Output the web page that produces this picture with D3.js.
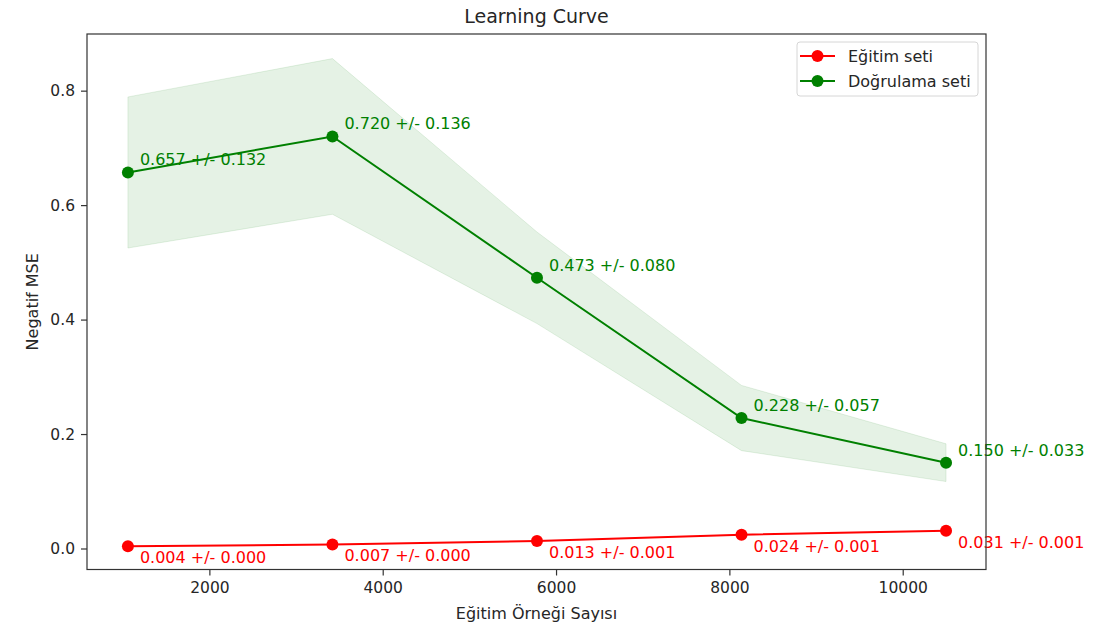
<!DOCTYPE html>
<html lang="tr">
<meta charset="UTF-8">
<title>Learning Curve</title>
<script src="https://d3js.org/d3.v7.min.js"></script>
<style>
  body { margin: 0; background: #fff; }
  svg text { font-family: "DejaVu Sans", sans-serif; fill: #262626; }
</style>
<body>
<svg id="chart" width="1097" height="631"></svg>
<script>
// data
var trainSizes = [1060, 3420, 5780, 8140, 10500];
var trainMean = [0.004, 0.007, 0.013, 0.024, 0.031];
var trainStd  = [0.000, 0.000, 0.001, 0.001, 0.001];
var valMean   = [0.657, 0.720, 0.473, 0.228, 0.150];
var valStd    = [0.132, 0.136, 0.080, 0.057, 0.033];
var xTicks = [2000, 4000, 6000, 8000, 10000];
var yTicks = [0.0, 0.2, 0.4, 0.6, 0.8];

// plot box (named so it does not clash with window.top)
var plotL = 87, plotR = 986, plotT = 34, plotB = 569.5;

var svg = d3.select("#chart");

var x = d3.scaleLinear().domain([588, 10961]).range([plotL, plotR]);
var y = d3.scaleLinear().domain([-0.0367, 0.899]).range([plotB, plotT]);

var rows = trainSizes.map((s, i) => ({
  s: s, tm: trainMean[i], ts: trainStd[i], vm: valMean[i], vs: valStd[i]
}));

// validation band
svg.append("path")
  .datum(rows)
  .attr("fill", "green")
  .attr("fill-opacity", 0.1)
  .attr("stroke", "green")
  .attr("stroke-opacity", 0.1)
  .attr("d", d3.area()
    .x(d => x(d.s))
    .y0(d => y(d.vm - d.vs))
    .y1(d => y(d.vm + d.vs)));

// training band (tiny)
svg.append("path")
  .datum(rows)
  .attr("fill", "red")
  .attr("fill-opacity", 0.1)
  .attr("d", d3.area()
    .x(d => x(d.s))
    .y0(d => y(d.tm - d.ts))
    .y1(d => y(d.tm + d.ts)));

function drawSeries(key, color, dx, dy, stdKey) {
  svg.append("path")
    .datum(rows)
    .attr("fill", "none")
    .attr("stroke", color)
    .attr("stroke-width", 2)
    .attr("d", d3.line().x(d => x(d.s)).y(d => y(d[key])));
  svg.selectAll("circle." + key)
    .data(rows)
    .enter()
    .append("circle")
      .attr("class", key)
      .attr("cx", d => x(d.s))
      .attr("cy", d => y(d[key]))
      .attr("r", 6)
      .attr("fill", color);
  svg.selectAll("text." + key)
    .data(rows)
    .enter()
    .append("text")
      .attr("class", key)
      .attr("x", d => x(d.s) + dx)
      .attr("y", d => y(d[key]) + dy)
      .style("font-size", "16px")
      .style("fill", color)
      .text(d => d[key].toFixed(3) + " +/- " + d[stdKey].toFixed(3));
}

drawSeries("vm", "green", 12, -7, "vs");
drawSeries("tm", "red", 12, 17, "ts");

// axes frame
svg.append("rect")
  .attr("x", plotL).attr("y", plotT)
  .attr("width", plotR - plotL).attr("height", plotB - plotT)
  .attr("fill", "none")
  .attr("stroke", "#333")
  .attr("stroke-width", 1.2);

var xAxis = svg.append("g")
  .attr("transform", `translate(0,${plotB})`)
  .call(d3.axisBottom(x).tickValues(xTicks).tickSize(6).tickPadding(6).tickFormat(d3.format("d")));
var yAxis = svg.append("g")
  .attr("transform", `translate(${plotL},0)`)
  .call(d3.axisLeft(y).tickValues(yTicks).tickSize(6).tickPadding(6).tickFormat(d3.format(".1f")));
[xAxis, yAxis].forEach(g => {
  g.select(".domain").remove();
  g.selectAll("line").attr("stroke", "#333").attr("stroke-width", 1.2);
  g.selectAll("text").style("font-size", "15.5px").style("font-family", "DejaVu Sans, sans-serif").attr("fill", "#262626");
});

// titles
svg.append("text")
  .attr("x", (plotL + plotR) / 2).attr("y", 23)
  .attr("text-anchor", "middle")
  .style("font-size", "19px")
  .text("Learning Curve");
svg.append("text")
  .attr("x", (plotL + plotR) / 2).attr("y", 619)
  .attr("text-anchor", "middle")
  .style("font-size", "16px")
  .text("Eğitim Örneği Sayısı");
svg.append("text")
  .attr("transform", `translate(38,${(plotT + plotB) / 2}) rotate(-90)`)
  .attr("text-anchor", "middle")
  .style("font-size", "16px")
  .text("Negatif MSE");

// legend
var legendItems = [
  { label: "Eğitim seti", color: "red" },
  { label: "Doğrulama seti", color: "green" }
];
var lg = svg.append("g");
lg.append("rect")
  .attr("x", 797).attr("y", 42)
  .attr("width", 181).attr("height", 54)
  .attr("rx", 3)
  .attr("fill", "#fff").attr("fill-opacity", 0.8)
  .attr("stroke", "#d6d6d6");
legendItems.forEach((it, i) => {
  var cy = 56 + i * 25;
  lg.append("line")
    .attr("x1", 800).attr("x2", 835)
    .attr("y1", cy).attr("y2", cy)
    .attr("stroke", it.color).attr("stroke-width", 2);
  lg.append("circle")
    .attr("cx", 817.5).attr("cy", cy).attr("r", 6)
    .attr("fill", it.color);
  lg.append("text")
    .attr("x", 848).attr("y", cy + 5.5)
    .style("font-size", "16px")
    .text(it.label);
});
</script>
</body>
</html>
